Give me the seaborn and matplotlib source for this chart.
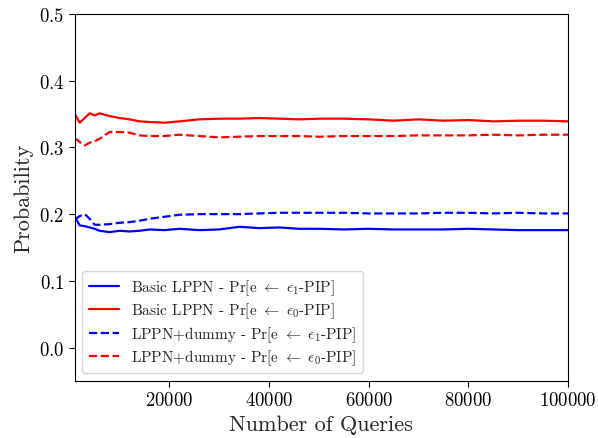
import numpy as np
import pandas as pd
import matplotlib
matplotlib.use("Agg")
import matplotlib.pyplot as plt
import seaborn as sns

# values
queries = [1000, 2000, 3000, 4000, 5000, 6000, 8000, 10000, 12000, 14000,
           16000, 19000, 22000, 26000, 30000, 34000, 38000, 42000, 46000, 50000,
           55000, 60000, 65000, 70000, 75000, 80000, 85000, 90000, 95000, 100000]

basic_eps1 = [0.196, 0.183, 0.182, 0.180, 0.178, 0.175, 0.173, 0.175, 0.174, 0.175,
              0.177, 0.176, 0.178, 0.176, 0.177, 0.181, 0.179, 0.180, 0.178, 0.178,
              0.177, 0.178, 0.177, 0.177, 0.177, 0.178, 0.177, 0.176, 0.176, 0.176]
basic_eps0 = [0.350, 0.337, 0.344, 0.351, 0.348, 0.351, 0.347, 0.344, 0.342, 0.339,
              0.338, 0.337, 0.339, 0.342, 0.343, 0.343, 0.344, 0.343, 0.342, 0.343,
              0.343, 0.342, 0.340, 0.342, 0.340, 0.341, 0.339, 0.340, 0.340, 0.339]
dummy_eps1 = [0.192, 0.197, 0.200, 0.193, 0.184, 0.184, 0.185, 0.187, 0.188, 0.190,
              0.193, 0.196, 0.199, 0.200, 0.200, 0.200, 0.201, 0.202, 0.202, 0.202,
              0.202, 0.201, 0.201, 0.201, 0.202, 0.202, 0.201, 0.202, 0.201, 0.201]
dummy_eps0 = [0.314, 0.308, 0.303, 0.307, 0.309, 0.313, 0.323, 0.323, 0.322, 0.318,
              0.317, 0.317, 0.319, 0.317, 0.315, 0.316, 0.317, 0.317, 0.317, 0.316,
              0.317, 0.317, 0.317, 0.318, 0.318, 0.318, 0.319, 0.318, 0.319, 0.319]

labels = [r'Basic LPPN - Pr[e $\leftarrow\ \epsilon_1$-PIP]',
          r'Basic LPPN - Pr[e $\leftarrow\ \epsilon_0$-PIP]',
          r'LPPN+dummy - Pr[e $\leftarrow\ \epsilon_1$-PIP]',
          r'LPPN+dummy - Pr[e $\leftarrow\ \epsilon_0$-PIP]']
colors = ['blue', 'red', 'blue', 'red']
styles = ['-', '-', '--', '--']

sns.set_style("ticks")
plt.rcParams['font.family'] = ['cmr10', 'DejaVu Serif']
plt.rcParams['mathtext.fontset'] = 'cm'
plt.rcParams['axes.formatter.use_mathtext'] = True
plt.rcParams['axes.unicode_minus'] = False

fig = plt.figure(figsize=(5.98, 4.39), dpi=100)
ax = fig.add_axes([0.125, 0.130, 0.825, 0.836])

series = [basic_eps1, basic_eps0, dummy_eps1, dummy_eps0]
for vals, lab, col, ls in zip(series, labels, colors, styles):
    df = pd.DataFrame({'queries': queries, 'prob': vals})
    sns.lineplot(data=df, x='queries', y='prob', color=col, linestyle=ls,
                 linewidth=1.6, label=lab, ax=ax)

ax.set_xlim(queries[0], queries[-1])
ax.set_ylim(-0.05, 0.5)
ax.set_xticks([20000, 40000, 60000, 80000, 100000])
ax.set_yticks([0.0, 0.1, 0.2, 0.3, 0.4, 0.5])
ax.tick_params(labelsize=13.5, colors='black', length=4)
for s in ax.spines.values():
    s.set_color('black')
ax.set_xlabel('Number of Queries', fontsize=16)
ax.set_ylabel('Probability', fontsize=16)
ax.legend(loc='lower left', fontsize=11, frameon=True, labelspacing=0.25)

plt.savefig('out.png', dpi=100)
